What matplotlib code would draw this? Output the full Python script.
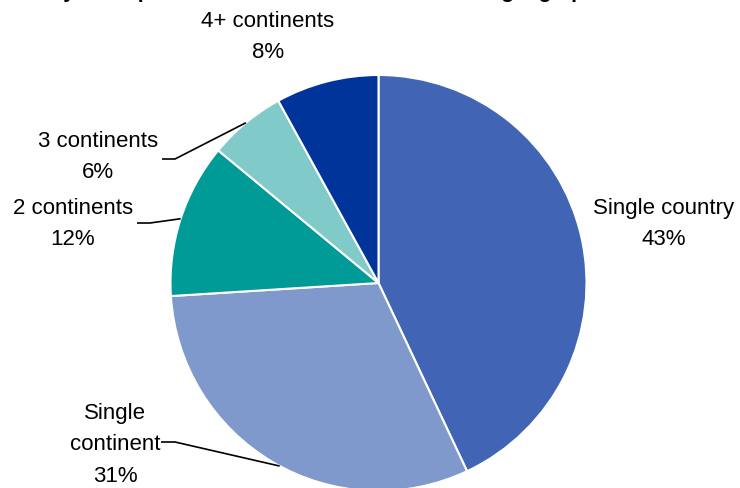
import numpy as np
import matplotlib
matplotlib.use("Agg")
import matplotlib.pyplot as plt

plt.rcParams['font.family'] = ['Liberation Sans', 'DejaVu Sans']

# Share of respondents by geographic reach
categories = ["Single country", "Single continent", "2 continents", "3 continents", "4+ continents"]
shares = [43, 31, 12, 6, 8]
colors = ["#4165B4", "#7F99CC", "#009B96", "#80CACA", "#01349A"]
title = "Survey of respondents: share of all funds in each geographic reach"

W, H = 740, 489
fig = plt.figure(figsize=(W / 100, H / 100), dpi=100)
ax = fig.add_axes([0, 0, 1, 1])

# work in pixel-like coordinates (y up)
cx, cy, R = 378.5, H - 284, 208
wedges, _ = ax.pie(shares, colors=colors, startangle=90, counterclock=False,
                   center=(cx, cy), radius=R, frame=True,
                   wedgeprops=dict(edgecolor="white", linewidth=1.5))
ax.set_xlim(0, W)
ax.set_ylim(0, H)
ax.set_aspect("equal")
ax.axis("off")

fs = 16
ls = 1.68

def mid_point(i):
    w = wedges[i]
    ang = np.deg2rad((w.theta1 + w.theta2) / 2)
    return cx + R * np.cos(ang), cy + R * np.sin(ang)

def lab(i, txt):
    return f"{txt}\n{shares[i]}%"

# label block centres (x, y in pixels from top) and optional leader elbows
label_pos = {
    0: (664, 224),
    1: (115, 445),
    2: (73, 224),
    3: (98, 157),
    4: (268, 37),
}
leaders = {
    1: [(161, 443), (175, 443)],
    2: [(137, 224), (150, 224)],
    3: [(162, 160), (175, 160)],
}

for i, name in enumerate(categories):
    x, y = label_pos[i]
    txt = lab(i, "Single\ncontinent" if name == "Single continent" else name)
    ax.text(x, H - y, txt, ha="center", va="center", fontsize=fs,
            linespacing=ls, color="black")
    if i in leaders:
        pts = [(px, H - py) for px, py in leaders[i]]
        end = mid_point(i)
        if i == 1:
            end = (end[0] + 7, end[1] - 4)
        pts.append(end)
        xs, ys = zip(*pts)
        ax.plot(xs, ys, color="black", lw=1.2, solid_capstyle="butt")

ax.text(5, H + 1.5, title, ha="left", va="baseline", fontsize=15,
        fontweight="bold", color="black", clip_on=False)

fig.savefig("out.png", dpi=100)
